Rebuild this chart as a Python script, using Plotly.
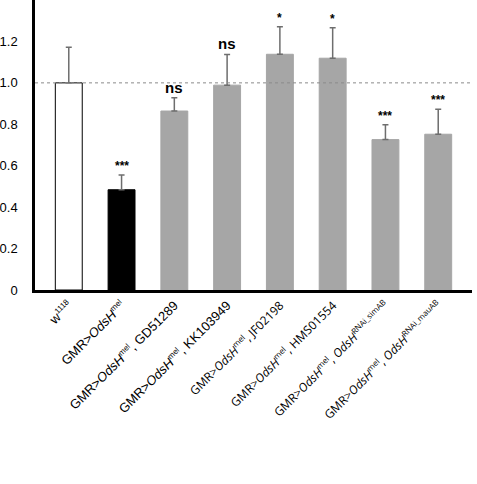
import plotly.graph_objects as go

ALT = '<span style="font-family:Open Sans;font-size:12px">'


def sup(t):
    return '<sup><span style="font-size:8px">' + t + '</span></sup>'


categories = [
    "w" + sup("1118"),
    "GMR><i>OdsH</i>" + sup("mel"),
    "GMR><i>OdsH</i>" + sup("mel") + ", GD51289",
    "GMR><i>OdsH</i>" + sup("mel") + ", KK103949",
    ALT + "GMR><i>OdsH</i>" + sup("mel") + ", JF02198</span>",
    ALT + "GMR><i>OdsH</i>" + sup("mel") + ", HMS01554</span>",
    ALT + "GMR><i>OdsH</i>" + sup("mel") + ", <i>OdsH</i>" + sup("RNAi_simAB") + "</span>",
    ALT + "GMR><i>OdsH</i>" + sup("mel") + ", <i>OdsH</i>" + sup("RNAi_mauAB") + "</span>",
]
values = [1.0, 0.484, 0.864, 0.989, 1.138, 1.119, 0.726, 0.752]
errors = [0.172, 0.071, 0.064, 0.148, 0.133, 0.147, 0.072, 0.120]
bar_colors = ["#ffffff", "#000000", "#a6a6a6", "#a6a6a6", "#a6a6a6", "#a6a6a6", "#a6a6a6", "#a6a6a6"]
line_colors = ["#000000", "#000000", "#a6a6a6", "#a6a6a6", "#a6a6a6", "#a6a6a6", "#a6a6a6", "#a6a6a6"]
sig_labels = ["", "***", "ns", "ns", "*", "*", "***", "***"]
sig_sizes = [12, 12, 15, 15, 12, 12, 12, 12]
y_ticks = [0, 0.2, 0.4, 0.6, 0.8, 1.0, 1.2, 1.4]
y_tick_text = ["0", "0.2", "0.4", "0.6", "0.8", "1.0", "1.2", "1.4"]

x = list(range(len(categories)))

fig = go.Figure()
fig.add_trace(go.Bar(
    x=x, y=values, width=0.51,
    marker=dict(color=bar_colors, line=dict(color=line_colors, width=1)),
    error_y=dict(type="data", array=errors, arrayminus=[0] * len(errors), symmetric=False,
                 color="#6e6e6e", thickness=1.5, width=3),
))

fig.add_shape(type="line", xref="paper", yref="y", x0=0, x1=1, y0=1.0, y1=1.0,
              line=dict(color="#8a8a8a", width=1, dash="dot"))

for i, (lab, sz) in enumerate(zip(sig_labels, sig_sizes)):
    if not lab:
        continue
    top = values[i] + errors[i]
    fig.add_annotation(x=i, y=top, text="<b>" + lab + "</b>", showarrow=False,
                       yanchor="bottom", yshift=0,
                       font=dict(family="Liberation Sans, Arial", size=sz, color="#000000"))

fig.update_layout(
    width=477, height=484,
    margin=dict(l=31, r=5, t=0, b=194),
    plot_bgcolor="white", paper_bgcolor="white",
    showlegend=False,
    font=dict(family="Liberation Sans, Arial", size=12, color="#000000"),
)
fig.update_xaxes(
    range=[-0.64, 7.64], tickmode="array", tickvals=x, ticktext=categories,
    tickangle=-45, showline=True, linecolor="#000000", linewidth=2.5,
    ticks="", showgrid=False, zeroline=False,
    tickfont=dict(family="Liberation Sans, Arial", size=13),
)
fig.update_yaxes(
    range=[0, 1.4], tickmode="array", tickvals=y_ticks, ticktext=y_tick_text,
    showline=True, linecolor="#000000", linewidth=2.5, ticks="", showgrid=False,
    zeroline=False, ticklabelstandoff=12,
    tickfont=dict(family="Liberation Sans, Arial", size=13),
)

fig.write_html("out.html")
